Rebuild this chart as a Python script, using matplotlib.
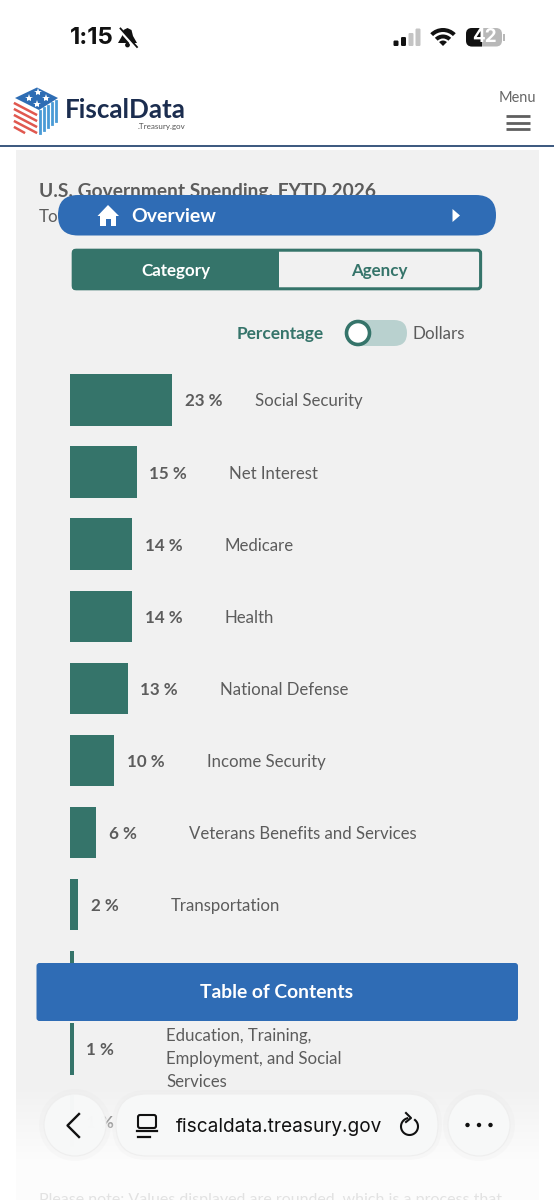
import numpy as np
import matplotlib
matplotlib.use("Agg")
import matplotlib.pyplot as plt
from matplotlib.patches import FancyBboxPatch, Circle, Wedge, Polygon, Rectangle

plt.rcParams["font.family"] = ["Lato", "DejaVu Sans"]

# spending shares
categories = ["Social Security", "Net Interest", "Medicare", "Health",
              "National Defense", "Income Security",
              "Veterans Benefits and Services", "Transportation", "",
              "Education, Training,\nEmployment, and Social\nServices", ""]
shares = [23, 15, 14, 14, 13, 10, 6, 2, 1, 1, 1]
share_labels = ["23 %", "15 %", "14 %", "14 %", "13 %", "10 %", "6 %", "2 %", "1 %", "1 %", "1 %"]

TEAL = "#35746a"
BLUE = "#2f6cb5"
PANEL = "#f1f1f1"
GREY = "#5c5c5c"


def px(size):
    return size * 0.72


def rbox(ax, x0, y0, x1, y1, r, color, **kw):
    p = FancyBboxPatch((x0, y0), x1 - x0, y1 - y0, boxstyle=f"round,pad=0,rounding_size={r}",
                       facecolor=color, edgecolor=kw.pop("edgecolor", "none"), **kw)
    ax.add_patch(p)
    return p


def page_axes(z):
    a = fig.add_axes([0, 0, 1, 1], zorder=z)
    a.set_xlim(0, 554)
    a.set_ylim(1200, 0)
    a.axis("off")
    return a


fig = plt.figure(figsize=(5.54, 12), dpi=100, facecolor="white")

# page behind the chart
back = page_axes(0)
back.add_patch(Rectangle((15.5, 150), 523, 1050, facecolor=PANEL, edgecolor="none"))
back.plot([0, 554], [145.5, 145.5], color="#2b4a74", lw=1.3)
back.text(39, 191, "U.S. Government Spending, FYTD 2026", fontsize=px(19.2), color=GREY,
          fontweight="bold", va="center")
back.text(39, 216.5, "Total", fontsize=px(17), color=GREY, va="center")

# chart: x in percent, one row per category
chart = fig.add_axes([69.5 / 554, 1 - 1157.05 / 1200, 447 / 554, 793.1 / 1200], zorder=1)
chart.patch.set_alpha(0)
chart.axis("off")
chart.set_xlim(0, 100)
chart.set_ylim(10.5, -0.5)
rows = np.arange(len(shares))
chart.barh(rows, shares, height=51.5 / 72.1, color=TEAL)
for i, (v, lab, name) in enumerate(zip(shares, share_labels, categories)):
    chart.annotate(lab, (v, i), xytext=(px(12.5), px(-1.5)), textcoords="offset points", va="center",
                   fontsize=px(17), fontweight="bold", color=GREY)
    gap = 82.5 if v >= 20 else 92.5
    drop = -10 if "\n" in name else -1.5
    chart.annotate(name, (v, i), xytext=(px(gap), px(drop)), textcoords="offset points", va="center",
                   fontsize=px(16.8), color=GREY, linespacing=1.55)

# everything floating over the chart
top = page_axes(2)

# fade at the bottom
fade = np.ones((200, 2, 4))
fade[:, :, 3] = np.linspace(0, 0.8, 200)[:, None]
top.imshow(fade, extent=(0, 554, 1160, 1085), aspect="auto", zorder=1, interpolation="bilinear")
top.set_xlim(0, 554)
top.set_ylim(1200, 0)
top.add_patch(Rectangle((0, 1160), 554, 40, facecolor="white", alpha=0.8, edgecolor="none", zorder=1))
top.text(39, 1200, "Please note: Values displayed are rounded, which is a process that", fontsize=px(16),
         color="#e2e2e2", va="center", zorder=2)

# status bar
top.text(70, 38, "1:15", fontsize=px(24), fontweight="bold", family="Inter", color="#111111", va="center", zorder=3)
bell = [(127.5, 28), (131.5, 30), (133, 36), (137, 43), (118, 43), (122, 36), (123.5, 30)]
top.add_patch(Polygon(bell, closed=True, facecolor="#111111", edgecolor="none", zorder=3))
top.add_patch(Circle((127.5, 45), 2.4, facecolor="#111111", edgecolor="none", zorder=3))
top.plot([119, 136], [29, 48], color="white", lw=2.4, zorder=4)
top.plot([120.5, 137], [28.5, 47], color="#111111", lw=1.3, zorder=5)
for x, h, c in [(396, 5.5, "#111111"), (403.5, 9, "#111111"), (411, 13, "#c4c4c4"), (418, 17.5, "#c4c4c4")]:
    rbox(top, x - 2.5, 46 - h, x + 2.5, 46, 1.2, c, zorder=3)
for r, w in [(18, 4), (11.5, 4), (5.5, 5.5)]:
    top.add_patch(Wedge((443, 46), r, 225, 315, width=w, facecolor="#111111", edgecolor="none", zorder=3))
rbox(top, 466, 28, 502, 46.5, 6, "#b8b8b8", zorder=3)
batt = rbox(top, 466, 28, 502, 46.5, 6, "#111111", zorder=4)
batt.set_clip_path(Rectangle((466, 28), 15.5, 19, transform=top.transData))
top.add_patch(Rectangle((503, 34), 1.5, 7, facecolor="#b8b8b8", edgecolor="none", zorder=3))
top.text(484, 37.5, "42", fontsize=px(19), fontweight="bold", family="Inter", color="white",
         ha="center", va="center", zorder=5)

# logo
top.add_patch(Polygon([(15, 98), (37, 87.5), (58, 98), (39, 110)], closed=True, facecolor="#2e6db4",
                      edgecolor="none", zorder=3))
for sx, sy in [(29, 98), (38, 91.5), (46, 98), (37, 104)]:
    top.plot(sx, sy, marker="*", ms=6, color="white", mew=0, zorder=4)
for k in range(5):
    y0 = 103.5 + k * 6
    top.plot([15, 36 - (k == 4) * 12], [y0, y0 + 11 - (k == 4) * 6], color="#e0584f", lw=1.8, zorder=3)
for k in range(5):
    x = 39.5 + k * 4.2
    top.plot([x, x], [111 - k * 2.6, 133 - k * 3], color="#4a9bd6", lw=2, zorder=3)
top.text(64.5, 110.5, "FiscalData", fontsize=px(26), fontweight="bold", color="#1b2d4f", va="center", zorder=3)
top.text(185, 126, ".Treasury.gov", fontsize=px(8), color="#555555", va="center", ha="right", zorder=3)

# menu
top.text(517, 97.5, "Menu", fontsize=px(14.5), color="#666666", ha="center", va="center", zorder=3)
for y in [115.5, 122.5, 129]:
    top.plot([506, 529.5], [y, y], color="#5f5f5f", lw=2, zorder=3, solid_capstyle="butt")

# overview pill
rbox(top, 58, 195, 496, 235.5, 20, BLUE, zorder=3)
top.add_patch(Polygon([(108, 205), (119, 216), (116, 216), (116, 226), (100, 226), (100, 216), (97.5, 216)],
                      closed=True, facecolor="white", edgecolor="none", zorder=4))
top.add_patch(Rectangle((105.5, 219), 5, 7, facecolor=BLUE, edgecolor="none", zorder=5))
top.text(131.5, 216.5, "Overview", fontsize=px(19.5), color="white", fontweight="bold", va="center", zorder=4)
top.add_patch(Polygon([(452.5, 209), (460, 215.5), (452.5, 222)], closed=True, facecolor="white",
                      edgecolor="none", zorder=4))

# category / agency switch
rbox(top, 73.2, 250.2, 480.6, 288.8, 3, PANEL, edgecolor=TEAL, linewidth=2.2, zorder=3)
rbox(top, 72, 249, 279, 290, 3, TEAL, zorder=4)
top.text(175.5, 271, "Category", fontsize=px(17), fontweight="bold", color="white", ha="center", va="center", zorder=5)
top.text(379, 271, "Agency", fontsize=px(17), fontweight="bold", color=TEAL, ha="center", va="center", zorder=5)

# percentage / dollars toggle
top.text(323.5, 334, "Percentage", fontsize=px(17.3), fontweight="bold", color=TEAL, ha="right", va="center", zorder=3)
rbox(top, 346, 320, 407, 346, 13, "#b9d1cf", zorder=3)
top.add_patch(Circle((358, 333), 11.5, facecolor="white", edgecolor=TEAL, lw=2.6, zorder=4))
top.text(413, 334, "Dollars", fontsize=px(17), color=GREY, va="center", zorder=3)

# table of contents
rbox(top, 36.5, 963, 518, 1021, 3, BLUE, zorder=3)
top.text(277, 993, "Table of Contents", fontsize=px(19.3), fontweight="bold", color="white",
         ha="center", va="center", zorder=4)

# browser controls
for cx in [75, 479]:
    top.add_patch(Circle((cx, 1125), 36, facecolor="#dddddd", alpha=0.12, edgecolor="none", zorder=3))
    top.add_patch(Circle((cx, 1125), 31, facecolor="#f8f9f9", alpha=0.98, edgecolor="#eeeeee", lw=0.8, zorder=4))
rbox(top, 112, 1090, 442, 1160, 35, "#dddddd", alpha=0.12, zorder=3)
rbox(top, 116, 1094, 438, 1156, 31, "#f8f9f9", alpha=0.98, edgecolor="#eeeeee", linewidth=0.8, zorder=4)
top.plot([79, 67.5, 79], [1114, 1125.5, 1137], color="#111111", lw=1.7, zorder=5)
rbox(top, 138, 1115, 156, 1128, 2, "none", edgecolor="#111111", linewidth=1.5, zorder=5)
top.plot([137, 157], [1131, 1131], color="#111111", lw=1.6, zorder=5)
top.plot([138, 150], [1136.5, 1136.5], color="#111111", lw=1.6, zorder=5)
top.text(175.5, 1126.5, "fiscaldata.treasury.gov", fontsize=px(19), color="#111111", va="center",
         family="Inter", zorder=5)
t = np.deg2rad(np.linspace(-50, 255, 40))
top.plot(409.5 + 8.5 * np.cos(t), 1126.5 + 8.5 * np.sin(t), color="#111111", lw=1.5, zorder=5)
top.plot([406, 411, 406], [1113, 1118, 1122], color="#111111", lw=1.5, zorder=5)
for x in [467.5, 479, 490.5]:
    top.add_patch(Circle((x, 1125), 2.2, facecolor="#111111", edgecolor="none", zorder=5))

fig.savefig("out.png", dpi=100, facecolor="white")
